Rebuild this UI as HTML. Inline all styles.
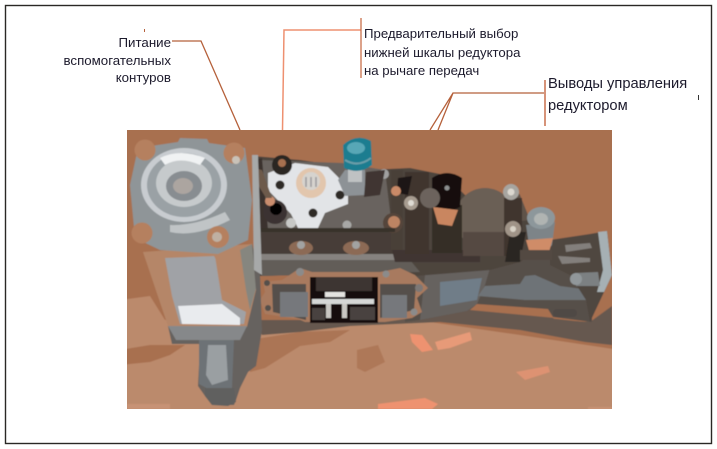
<!DOCTYPE html>
<html><head><meta charset="utf-8"><style>
html,body{margin:0;padding:0;background:#fff}
svg{display:block}
text{font-family:"Liberation Sans",Arial,sans-serif;fill:#1c1a2c}
</style></head><body>
<svg width="717" height="449" viewBox="0 0 717 449" xmlns="http://www.w3.org/2000/svg">
<defs><filter id="b" x="-2%" y="-2%" width="104%" height="104%"><feGaussianBlur stdDeviation="0.65"/></filter>
<clipPath id="c"><rect x="127" y="130" width="485" height="279"/></clipPath></defs>
<rect width="717" height="449" fill="#fff"/>
<rect x="5.500" y="5.500" width="706" height="438" fill="#fff" stroke="#2a2825" stroke-width="1.4"/>

<g clip-path="url(#c)"><g filter="url(#b)">
<!-- photo background -->
<rect x="120" y="125" width="500" height="290" fill="#a87050"/>
<path d="M120 318 L170 320 L260 330 L430 322 L520 335 L620 350 V415 H120Z" fill="#bb8a6c"/>
<path d="M120 350 L150 345 L185 345 L170 355 L150 362 L120 365Z M120 270 L135 285 L150 292 L120 300Z" fill="#a87050"/>
<path d="M120 300 L150 296 L165 320 L120 322Z" fill="#bb8a6c"/>
<path d="M250 340 L300 332 L350 330 L330 342 L300 346 L265 368 L250 372Z" fill="#a87050" opacity=".85"/>
<path d="M357 350 L378 345 L385 362 L365 372 L357 368Z" fill="#a87050" opacity=".7"/>
<path d="M410 334 L422 335 L433 350 L422 352 L412 342Z" fill="#ee9270"/>
<path d="M435 342 L470 332 L472 340 L450 348 L438 350Z" fill="#e79a78"/>
<path d="M516 372 L548 366 L550 372 L525 380Z" fill="#dd9272"/>
<path d="M378 404 L425 398 L438 404 L432 409 L378 409Z" fill="#ee9270"/>
<path d="M127 404 H170 V409 H127Z M588 407 H612 V410 H588Z" fill="#c79274"/>

<!-- shadow band -->
<path d="M255 320 L340 320 L420 316 L467 308 L520 315 L584 322 L612 318 L612 345 L585 342 L520 330 L440 322 L350 326 L300 332 L262 335Z" fill="#66594f"/>
<path d="M470 305 L545 310 L555 320 L590 322 L612 306 V318 L590 332 L525 322 L470 312Z" fill="#66594f"/>
<path d="M477 304 L548 309 L555 318 L470 310Z" fill="#a87050"/>

<!-- rear housing -->
<path d="M405 262 L552 240 L592 240 L592 322 L553 317 L548 309 L477 304 L467 311 L420 320 L405 322Z" fill="#574f49"/>
<path d="M425 275 L490 268 L485 285 L477 304 L467 311 L420 320Z" fill="#66625f"/>
<path d="M440 282 L482 278 L477 300 L440 306Z" fill="#6f7d88"/>
<path d="M485 286 L520 284 L525 276 L535 275 L560 286 L590 290 L590 300 L525 300 L478 296Z" fill="#6e7377"/>
<path d="M550 240 L590 234 L607 231 L612 275 L590 322 L586 300 L570 275 L550 265Z" fill="#4f4740"/>
<path d="M565 245 L590 243 L592 248 L566 252Z M558 256 L590 258 L590 262 L562 264Z" fill="#837f7b"/>
<path d="M598 232 L607 231 L612 275 L604 292 L597 292 L603 270Z" fill="#a6b0b4"/>
<path d="M575 273 L598 272 L600 286 L576 286Z" fill="#7c8082"/><circle cx="576" cy="279" r="6" fill="#91979a"/>
<rect x="553" y="309" width="24" height="8" rx="4" fill="#4f4a45"/>

<!-- upper manifold -->
<path d="M253 156 L300 160 L370 170 L410 168 L445 175 L470 200 L530 215 L552 240 L520 262 L490 270 L415 276 L400 272 L260 276Z" fill="#4d443d"/>
<path d="M258 160 L342 163 L385 170 L392 228 L258 228Z" fill="#69645f"/>
<path d="M258 228 H400 V254 H258Z" fill="#473d37"/>
<path d="M258 254 H420 V260 H258Z" fill="#86827f"/>
<path d="M258 260 H410 L420 272 L262 276Z" fill="#625d58"/>
<path d="M392 250 H480 V262 H395Z" fill="#3f3631"/>

<!-- round cap -->
<circle cx="485" cy="218" r="30" fill="#6a5f54"/>
<path d="M463 232 H512 V256 H463Z" fill="#544a42"/>
<path d="M512 186 L520 195 L530 220 L513 222Z" fill="#5e534a"/>
<rect x="405" y="172" width="24" height="82" fill="#40362f"/>
<rect x="432" y="205" width="30" height="48" fill="#362d28"/>
<rect x="504" y="198" width="18" height="58" fill="#40362f"/>
<rect x="391" y="170" width="12" height="80" fill="#4a3f38"/>
<path d="M510 232 H526 L520 262 H505Z" fill="#2c2521"/>

<!-- right-side bolts/connectors -->
<circle cx="511" cy="192" r="8" fill="#a7a5a0"/><circle cx="511" cy="192" r="3.500" fill="#dcd8d0"/>
<circle cx="513" cy="229" r="8" fill="#a09488"/><circle cx="513" cy="229" r="3" fill="#d8d2c6"/>
<path d="M526 225 L555 222 L552 245 L548 250 L530 252Z" fill="#7d8488"/>
<ellipse cx="541" cy="218" rx="14" ry="11" fill="#8d979b"/><ellipse cx="541" cy="219" rx="7" ry="6" fill="#b0b4b2"/>
<path d="M526 240 L553 238 L549 252 L530 254Z" fill="#cf8c68"/>
<path d="M520 250 H552 V260 H520Z" fill="#534a42"/>
<path d="M432 178 Q447 168 462 178 L460 207 L448 212 L432 206Z" fill="#15110f"/>
<circle cx="447" cy="188" r="2.500" fill="#8c8f8f"/>
<path d="M433 207 L458 210 L452 226 L438 224Z" fill="#c98660"/>
<circle cx="430" cy="198" r="10" fill="#6c645d"/>
<circle cx="411" cy="203" r="7" fill="#a79c90"/><circle cx="411" cy="203" r="3" fill="#dfdbd3"/>
<path d="M398 178 L412 176 L408 195 L397 193Z" fill="#1d1815"/>
<circle cx="396" cy="191" r="5" fill="#c98a68"/>
<circle cx="393" cy="223" r="10" fill="#55453a"/><circle cx="394" cy="222" r="6" fill="#bd8464"/>
<circle cx="384" cy="174" r="5" fill="#a0a0a0"/>

<!-- valve block -->
<path d="M253 160 L262 158 L268 230 L258 230Z" fill="#3b332d"/>
<path d="M268 173 L295 163 L328 167 L338 177 L348 190 L348 204 L325 213 L318 228 L298 228 L291 214 L268 190Z" fill="#e2e4e7"/>
<circle cx="311" cy="183" r="15" fill="#e2c6ad"/>
<circle cx="311" cy="181" r="9" fill="#d6d3ce"/>
<path d="M306 177 V187 M311 177 V187 M316 177 V187" stroke="#9a9a9c" stroke-width="1.500"/>
<circle cx="280" cy="185" r="4.500" fill="#2f2a28"/>
<circle cx="340" cy="195" r="4.500" fill="#2f2a28"/>
<circle cx="313" cy="213" r="4.500" fill="#2f2a28"/>
<circle cx="347" cy="225" r="4.500" fill="#a8a8a6"/>
<circle cx="291" cy="223" r="5" fill="#c7c8c6"/>
<circle cx="282" cy="165" r="10" fill="#2a2522"/>
<circle cx="282" cy="163" r="4" fill="#a67050"/>
<circle cx="275" cy="212" r="12" fill="#3a3230"/>
<circle cx="276" cy="209" r="6" fill="#050404"/>
<circle cx="270" cy="201" r="5" fill="#c98d6e"/>
<path d="M254 168 L262 170 L272 198 L266 198 L255 180Z" fill="#6d5a4c"/>

<!-- blue connector -->
<path d="M345 170 L365 170 L365 195 L345 196 L338 180Z" fill="#8d9296"/>
<path d="M348 168 H362 V182 H348Z" fill="#bfc2c3"/>
<path d="M343 145 Q356 133 371 141 L372 165 Q360 175 344 168Z" fill="#1c7d90"/>
<ellipse cx="356" cy="148" rx="9" ry="6" fill="#59a7b6"/>
<path d="M345 160 Q358 168 371 158" stroke="#6a9ea8" stroke-width="2" fill="none"/>
<path d="M366 172 L385 170 L380 195 L364 197Z" fill="#3f3630"/>
<path d="M258 228 H395 V232 H258Z" fill="#383029"/>

<ellipse cx="301" cy="248" rx="12" ry="7" fill="#8c6a55"/><circle cx="301" cy="245" r="4" fill="#a2a3a2"/>
<ellipse cx="356" cy="248" rx="13" ry="7" fill="#8c6a55"/><circle cx="356" cy="245" r="4" fill="#a2a3a2"/>

<!-- gasket plate -->
<path d="M263 282 L282 280 L300 268 L312 272 L380 272 L390 270 L400 268 L415 275 L428 288 L417 298 L422 312 L412 318 L385 322 L305 322 L298 319 L265 314 L260 300 L265 292Z" fill="#a87a5e"/>
<path d="M272 284 L306 284 L306 320 L273 312Z" fill="#55504b"/>
<path d="M280 292 H308 V317 H280Z" fill="#76787b"/>
<path d="M380 284 L416 284 L414 310 L380 318Z" fill="#55504b"/>
<path d="M382 295 H407 V318 H382Z" fill="#76787b"/>
<path d="M310 277 H378 V323 H310Z" fill="#120f0e"/>
<path d="M316 277 H372 V291 H316Z" fill="#3c3530"/>
<rect x="325" y="292" width="20" height="5" fill="#e4e3e0"/>
<rect x="312" y="299" width="62" height="5" fill="#d6d7d6"/>
<path d="M326 304 h5 v14 h-5Z M342 304 h5 v14 h-5Z" fill="#c9c7c3"/>
<path d="M350 307 H375 V320 H350Z M312 308 H325 V320 H312Z" fill="#4a433f"/>
<circle cx="300" cy="272" r="4" fill="#8b8b8b"/><circle cx="386" cy="274" r="3.500" fill="#8b8b8b"/><circle cx="419" cy="288" r="4" fill="#7d7876"/><circle cx="414" cy="312" r="3.500" fill="#8b8b8b"/><circle cx="267" cy="283" r="3" fill="#55504b"/><circle cx="268" cy="308" r="3" fill="#55504b"/>

<!-- cylinder body -->
<path d="M143 252 L252 244 L260 274 L247 327 L168 326Z" fill="#b58668"/>
<path d="M165 258 L215 256 L222 300 L246 312 L244 324 L180 324 L172 296Z" fill="#a0a2a6"/>
<path d="M178 306 L222 304 L240 318 L240 325 L182 324Z" fill="#e9ebee"/>
<path d="M214 256 L238 250 L244 305 L232 300 L222 270Z" fill="#b58668"/>
<path d="M240 250 L252 244 L260 274 L250 310 L246 290Z" fill="#86867f"/>
<path d="M252 244 L260 274 L262 330 L256 366 L248 372 L240 388 L236 400 L234 405 L212 405 L205 396 L198 386 L200 344 L172 344 L168 326 L247 327 L256 290Z" fill="#66625f"/>
<path d="M168 326 H247 L240 340 H176Z" fill="#86888a"/>
<path d="M199 340 H234 L232 388 L210 390 L199 384Z" fill="#6d7276"/>
<path d="M208 345 H226 L228 380 L212 385 L206 375Z" fill="#9a9fa2"/>
<path d="M205 388 L234 388 L236 402 L228 406 L212 405 L205 396Z" fill="#60605e"/>

<!-- cylinder flange -->
<path d="M130 185 L138 148 L178 142 L180 138 L207 139 L209 143 L245 148 L252 200 L248 240 L218 254 L160 250 L135 238Z" fill="#8f9598"/>
<ellipse cx="184" cy="185" rx="43" ry="37" fill="#c8ccd0"/>
<ellipse cx="184" cy="185" rx="37" ry="32" fill="#9aa1a5"/>
<ellipse cx="184" cy="183" rx="28" ry="24" fill="#c6cacc"/>
<ellipse cx="184" cy="186" rx="18" ry="15" fill="#888d91"/>
<ellipse cx="183" cy="186" rx="10" ry="8" fill="#aca5a0"/>
<path d="M160 158 Q180 148 205 158 L200 165 Q180 156 165 165Z" fill="#f0f2f3"/>
<path d="M170 225 Q195 226 225 212 L230 220 Q195 238 170 232Z" fill="#c0c4c6"/>
<circle cx="145" cy="150" r="10.500" fill="#b5805f"/>
<circle cx="234" cy="153" r="10.500" fill="#b5805f"/><circle cx="236" cy="160" r="4" fill="#c9c2b8"/>
<circle cx="142" cy="233" r="10.500" fill="#b5805f"/>
<circle cx="218" cy="237" r="11" fill="#b5805f"/><circle cx="217" cy="237" r="5" fill="#bfb0a2"/>
<path d="M252 155 L258 155 L262 275 L254 270Z" fill="#a7a9a9"/>
</g></g>

<!-- leader lines -->
<g fill="none">
<path d="M172 41 H201 L240 130" stroke="#b5603a" stroke-width="1.300"/>
<path d="M282.500 130 L284 30 H361" stroke="#ee9070" stroke-width="1.500"/>
<path d="M361 18 V78" stroke="#c96f4c" stroke-width="1.300"/>
<path d="M544 93 H453 L430 130 M453 93 L438 130" stroke="#b5603a" stroke-width="1.300"/>
<path d="M545 80 V126" stroke="#c96f4c" stroke-width="1.500"/>
</g>

<!-- labels -->
<g font-size="13.300" text-anchor="end">
<text x="171" y="47">Питание</text>
<text x="171" y="65">вспомогательных</text>
<text x="171" y="82">контуров</text>
</g>
<g font-size="13.200">
<text x="364" y="38">Предварительный выбор</text>
<text x="364" y="57">нижней шкалы редуктора</text>
<text x="364" y="75">на рычаге передач</text>
</g>
<g font-size="14.700">
<text x="548" y="88">Выводы управления</text>
<text x="548" y="110">редуктором</text>
</g>
<rect x="144" y="29" width="1" height="3" fill="#b5603a"/>
<rect x="698" y="95" width="1" height="5" fill="#333"/>
</svg>
</body></html>
